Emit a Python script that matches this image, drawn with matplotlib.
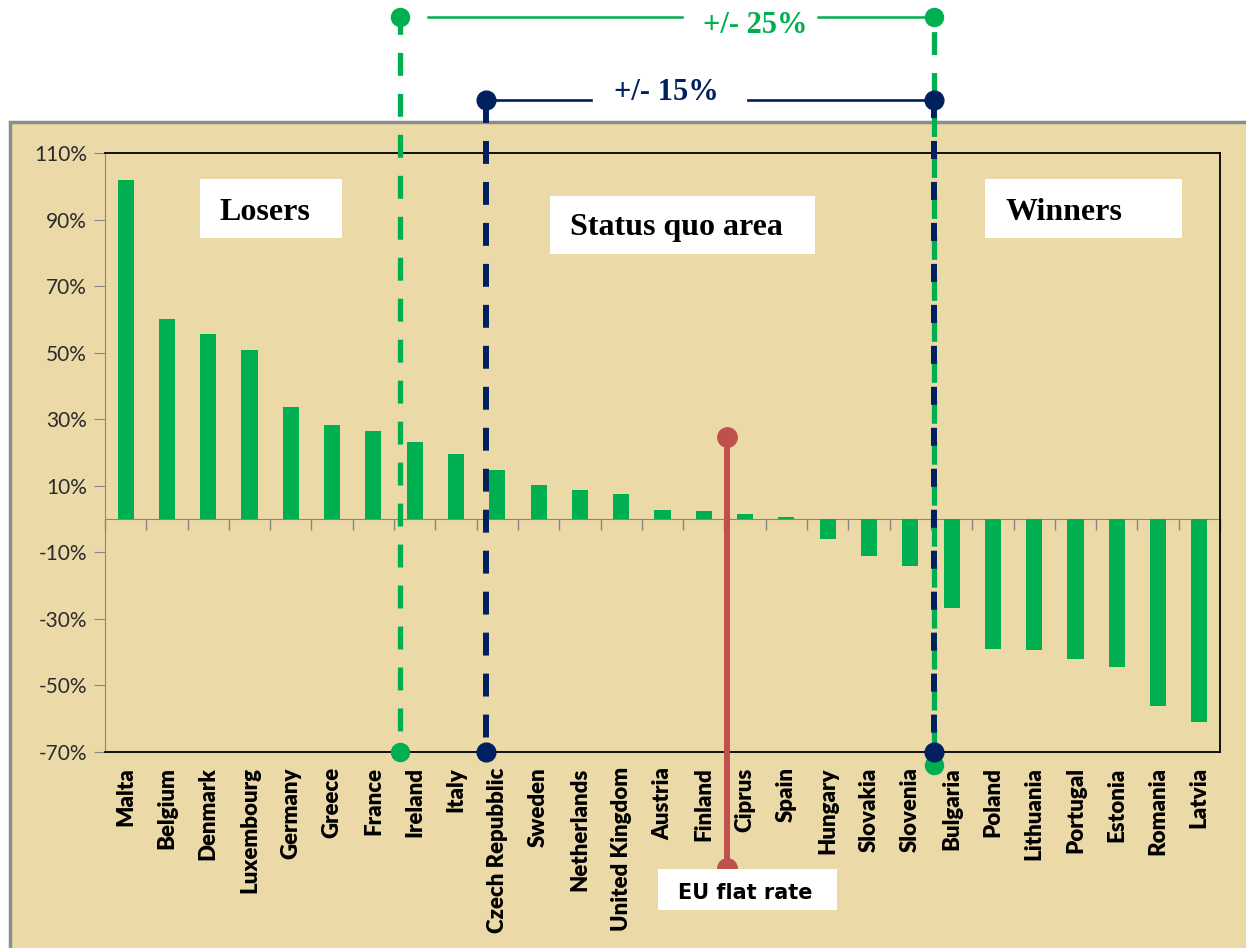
import matplotlib.pyplot as plt
from matplotlib.patches import Rectangle
import numpy as np

plt.rcParams['lines.scale_dashes'] = False

countries = ['Malta', 'Belgium', 'Denmark', 'Luxembourg', 'Germany', 'Greece', 'France',
             'Ireland', 'Italy', 'Czech Repubblic', 'Sweden', 'Netherlands', 'United Kingdom',
             'Austria', 'Finland', 'Ciprus', 'Spain', 'Hungary', 'Slovakia', 'Slovenia',
             'Bulgaria', 'Poland', 'Lithuania', 'Portugal', 'Estonia', 'Romania', 'Latvia']
change_pct = [102, 60, 55.7, 50.8, 33.7, 28.4, 26.6, 23.3, 19.6, 14.6, 10.1, 8.8, 7.4,
              2.8, 2.4, 1.4, 0.7, -6.0, -11.0, -14.0, -26.8, -39.1, -39.4, -42.1, -44.4,
              -56.2, -60.9]

y_ticks = [-70, -50, -30, -10, 10, 30, 50, 70, 90, 110]

# band boundaries on the category axis
band25 = (6.64, 19.57)
band15 = (8.73, 19.57)
flat_rate_x = 14.56
flat_rate_y = 24.7

GREEN = '#00B050'
NAVY = '#002060'
RED = '#C0504D'
PAPER = '#EBDAA8'

W, H = 1246, 948
fig = plt.figure(figsize=(W / 100, H / 100), dpi=100)


def fx(px):
    return px / W


def fy(py):
    return 1 - py / H


# papyrus panel behind the chart
fig.add_artist(Rectangle((fx(10), -0.05), 1.1, fy(122) + 0.05, transform=fig.transFigure,
                         facecolor=PAPER, edgecolor='#8C8C8C', lw=2.5, zorder=-2))

ax = fig.add_axes([fx(105), fy(752), fx(1220) - fx(105), fy(153) - fy(752)])
ax.set_facecolor('none')

x = np.arange(len(countries))
ax.bar(x, change_pct, width=0.39, color=GREEN, zorder=3)

ax.set_xlim(-0.5, len(countries) - 0.5)
ax.set_ylim(-70, 110)
ax.set_yticks(y_ticks, [f'{v}%' for v in y_ticks])
ax.tick_params(axis='y', length=8, color='#868686', pad=5, labelsize=15,
               labelcolor='#2b2b2b')
for lab in ax.get_yticklabels():
    lab.set_family('Lato')

ax.set_xticks(x, countries, rotation=90, fontsize=16, fontweight='heavy', family='Lato')
ax.tick_params(axis='x', length=0, pad=11)

for side in ['top', 'right', 'bottom']:
    ax.spines[side].set_color('black')
    ax.spines[side].set_linewidth(1.3)
ax.spines['left'].set_color('#868686')

# category axis running through zero
zero_axis = ax.secondary_xaxis(70 / 180)
zero_axis.set_xticks(np.arange(-0.5, len(countries), 1), labels=[])
zero_axis.tick_params(axis='x', length=8, color='#868686', width=1)
zero_axis.spines['bottom'].set_color('#868686')

# +/- 25% band
ax.plot([band25[0]] * 2, [151, -70], color=GREEN, lw=3.8, ls=(4, (16.5, 13)),
        clip_on=False, zorder=5)
ax.plot([band25[1]] * 2, [151, -74], color=GREEN, lw=3.8, ls=(19, (16.5, 13)),
        clip_on=False, zorder=5)
ax.plot([band25[0], band25[1]], [151, 151], 'o', ms=13, color=GREEN, clip_on=False, zorder=7)
ax.plot([band25[0], band25[1]], [-70, -74], 'o', ms=13, color=GREEN, clip_on=False, zorder=5)
ax.plot([7.32, 13.47], [151, 151], color=GREEN, lw=1.8, clip_on=False)
ax.plot([16.77, band25[1]], [151, 151], color=GREEN, lw=1.8, clip_on=False)
ax.text(15.25, 146, '+/- 25%', ha='center', va='baseline', fontsize=22,
        family='Liberation Serif', fontweight='bold', color=GREEN)

# +/- 15% band
ax.plot([band15[0]] * 2, [126, -70], color=NAVY, lw=4.3, ls=(0, (16.5, 13)),
        clip_on=False, zorder=6)
ax.plot([band15[1]] * 2, [126, -70], color=NAVY, lw=4.3, ls=(0, (13, 16.5)),
        clip_on=False, zorder=6)
ax.plot([band15[0], band15[1]], [126, 126], 'o', ms=13.5, color=NAVY, clip_on=False, zorder=7)
ax.plot([band15[0], band15[1]], [-70, -70], 'o', ms=13.5, color=NAVY, clip_on=False, zorder=7)
ax.plot([band15[0], 11.27], [126, 126], color=NAVY, lw=1.9, clip_on=False)
ax.plot([15.07, band15[1]], [126, 126], color=NAVY, lw=1.9, clip_on=False)
ax.text(13.1, 125.9, '+/- 15%', ha='center', va='baseline', fontsize=22,
        family='Liberation Serif', fontweight='bold', color=NAVY)

# EU flat rate marker
ax.plot([flat_rate_x] * 2, [flat_rate_y, -105], color=RED, lw=4.3, clip_on=False, zorder=5)
ax.plot([flat_rate_x] * 2, [flat_rate_y, -105], 'o', ms=14, color=RED, clip_on=False, zorder=5)


def label_box(x0, y0, x1, y1, text, baseline, pad, **kw):
    fig.add_artist(Rectangle((fx(x0), fy(y1)), fx(x1) - fx(x0), fy(y0) - fy(y1),
                             transform=fig.transFigure, facecolor='white',
                             edgecolor='none', zorder=2))
    fig.text(fx(x0 + pad), fy(baseline), text, va='baseline', ha='left', zorder=3, **kw)


serif = dict(family='Liberation Serif', fontweight='bold', fontsize=23, color='black')
label_box(200, 179, 342, 238, 'Losers', 220, 20, **serif)
label_box(550, 196, 815, 254, 'Status quo area', 235, 20, **serif)
label_box(985, 179, 1182, 238, 'Winners', 220, 20, **serif)
label_box(658, 869, 837, 910, 'EU flat rate', 899, 20,
          family='DejaVu Sans', fontweight='bold', fontsize=15, color='black')

fig.savefig('out.png', dpi=100)
